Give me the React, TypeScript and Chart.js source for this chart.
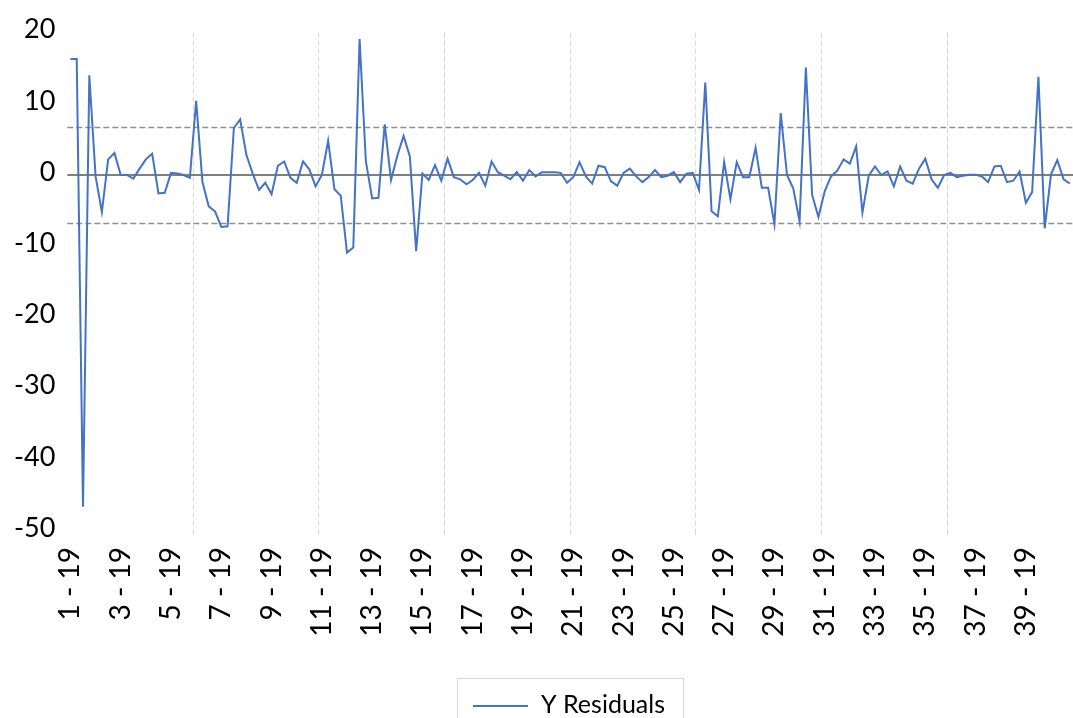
import React, { useEffect, useRef } from "react";
import { Chart, registerables } from "chart.js";

Chart.register(...registerables);

// ---- Data ----
const WEEK_NUMBERS = [
  1, 2, 3, 4, 5, 6, 7, 8, 9, 10, 11, 12, 13, 14, 15, 16, 17, 18, 19, 20,
  21, 22, 23, 24, 25, 26, 27, 28, 29, 30, 31, 32, 33, 34, 35, 36, 37, 38, 39, 40,
];
const POINTS_PER_WEEK = 4;
const YEAR_SUFFIX = "19";
const CATEGORIES = WEEK_NUMBERS.flatMap((w) =>
  Array(POINTS_PER_WEEK).fill(`${w} - ${YEAR_SUFFIX}`)
);

const Y_RESIDUALS = [
  16.3, 16.3, -46.6, 14.0, -0.2, -5.2, 2.2, 3.1, 0, 0, -0.5, 0.9, 2.2, 3.0, -2.6, -2.5, 0.3, 0.2, 0, -0.4,
  10.4, -1.0, -4.4, -5.1, -7.3, -7.2, 6.6, 7.8, 2.8, 0.2, -2.1, -1.1,
  -2.7, 1.3, 1.9, -0.4, -1.1, 1.9, 0.8, -1.6, 0.0, 4.8, -2.0, -2.9, -10.9, -10.2, 19.1, 1.9, -3.3, -3.2,
  7.1, -0.7, 2.7, 5.5, 2.6, -10.7, 0.2, -0.7, 1.4, -0.8, 2.3, -0.3, -0.6, -1.3,
  -0.7, 0.3, -1.5, 1.9, 0.4, -0.1, -0.6, 0.4, -0.8, 0.7, -0.2, 0.4, 0.4, 0.4, 0.3, -1.1, -0.3, 1.8, -0.2, -1.2,
  1.3, 1.1, -0.9, -1.5, 0.3, 0.9, -0.2, -1.0, -0.3, 0.7, -0.3, -0.1,
  0.4, -1.0, 0.2, 0.3, -2.1, 13.0, -5.1, -5.8, 1.8, -3.4, 1.8, -0.3, -0.3, 3.8, -1.8, -1.8, -6.9, 8.7, 0.0, -1.9,
  -6.5, 15.1, -2.8, -5.9, -2.3, -0.2, 0.6, 2.2, 1.6, 4.0, -5.3, -0.1,
  1.2, 0.0, 0.5, -1.6, 1.2, -0.8, -1.2, 0.9, 2.3, -0.6, -1.8, 0.0, 0.3, -0.3, -0.1, 0.05, 0.05, -0.2, -1.0, 1.2,
  1.3, -1.0, -0.8, 0.5, -3.9, -2.4, 13.8, -7.5, 0.1, 2.1, -0.6, -1.2,
];

const UPPER_BOUND = 6.8;
const LOWER_BOUND = -6.8;
const ZERO_LINE = 0;

const Y_MIN = -50;
const Y_MAX = 20;
const Y_STEP = 10;

const LABEL_EVERY = 8;
const GRID_EVERY = 20;
const SERIES_NAME = "Y Residuals";

// ---- Styles ----
const LINE_COLOR = "#4472C4";
const FONT_FAMILY = "Lato, 'Open Sans', sans-serif";

const refLinesPlugin = {
  id: "refLines",
  beforeDatasetsDraw(chart: any) {
    const { ctx, chartArea, scales } = chart;
    const y = scales.y;
    ctx.save();
    ctx.strokeStyle = "#8f8f8f";
    ctx.lineWidth = 1.3;
    ctx.setLineDash([6, 3]);
    for (const v of [UPPER_BOUND, LOWER_BOUND]) {
      const py = Math.round(y.getPixelForValue(v)) + 0.5;
      ctx.beginPath();
      ctx.moveTo(chartArea.left, py);
      ctx.lineTo(chartArea.right, py);
      ctx.stroke();
    }
    ctx.setLineDash([]);
    ctx.strokeStyle = "#7f7f7f";
    ctx.lineWidth = 2;
    const pz = Math.round(y.getPixelForValue(ZERO_LINE));
    ctx.beginPath();
    ctx.moveTo(chartArea.left, pz);
    ctx.lineTo(chartArea.right, pz);
    ctx.stroke();
    ctx.restore();
  },
};

const legendBoxPlugin = {
  id: "legendBox",
  afterDraw(chart: any) {
    const { ctx } = chart;
    ctx.save();
    ctx.strokeStyle = "#d9d9d9";
    ctx.lineWidth = 1;
    ctx.strokeRect(457.5, 678.5, 226, 60);
    ctx.strokeStyle = LINE_COLOR;
    ctx.lineWidth = 2;
    ctx.beginPath();
    ctx.moveTo(473, 706);
    ctx.lineTo(528, 706);
    ctx.stroke();
    ctx.fillStyle = "#000000";
    ctx.font = `25px ${FONT_FAMILY}`;
    ctx.textBaseline = "middle";
    ctx.textAlign = "left";
    ctx.fillText(SERIES_NAME, 541, 705);
    ctx.restore();
  },
};

export default function App() {
  const canvasRef = useRef<HTMLCanvasElement | null>(null);

  useEffect(() => {
    document.body.style.margin = "0";
    const canvas = canvasRef.current;
    if (!canvas) return;
    const chart = new Chart(canvas, {
      type: "line",
      data: {
        labels: CATEGORIES,
        datasets: [
          {
            label: SERIES_NAME,
            data: Y_RESIDUALS,
            borderColor: LINE_COLOR,
            backgroundColor: LINE_COLOR,
            borderWidth: 2,
            pointRadius: 0,
            tension: 0,
            fill: false,
          },
        ],
      },
      options: {
        animation: false,
        responsive: false,
        devicePixelRatio: 1,
        layout: { padding: { top: 32.6, left: 0, right: 0, bottom: 0 } },
        plugins: {
          legend: { display: false },
          tooltip: { enabled: false },
        },
        scales: {
          x: {
            type: "category",
            offset: true,
            grid: {
              display: true,
              offset: true,
              drawOnChartArea: true,
              drawTicks: true,
              tickLength: 4,
              lineWidth: 1,
              tickBorderDash: [5, 3],
              color: (c: any) =>
                c.index !== undefined &&
                c.index > 0 &&
                c.index < CATEGORIES.length &&
                c.index % GRID_EVERY === 0
                  ? "#d9d9d9"
                  : "rgba(0,0,0,0)",
            },
            border: { display: false, dash: [5, 3] },
            ticks: {
              autoSkip: false,
              maxRotation: 90,
              minRotation: 90,
              padding: 12,
              color: "#000000",
              font: { family: FONT_FAMILY, size: 28 },
              callback: function (this: any, val: any, idx: number) {
                return idx % LABEL_EVERY === 0 ? this.getLabelForValue(val) : "";
              },
            },
            afterFit: (scale: any) => {
              scale.height = 187;
              scale.paddingLeft = 0;
              scale.paddingRight = 0;
            },
          },
          y: {
            min: Y_MIN,
            max: Y_MAX,
            grid: { display: false, drawTicks: false, tickLength: 0 },
            border: { display: false },
            ticks: {
              stepSize: Y_STEP,
              padding: 12,
              labelOffset: -3,
              color: "#000000",
              font: { family: FONT_FAMILY, size: 27 },
            },
            afterFit: (scale: any) => {
              scale.width = 67.3;
            },
          },
        },
      },
      plugins: [refLinesPlugin, legendBoxPlugin],
    });
    return () => chart.destroy();
  }, []);

  return (
    <div style={{ width: 1073, height: 718, overflow: "hidden" }}>
      <canvas ref={canvasRef} width={1073} height={718} style={{ display: "block" }} />
    </div>
  );
}
